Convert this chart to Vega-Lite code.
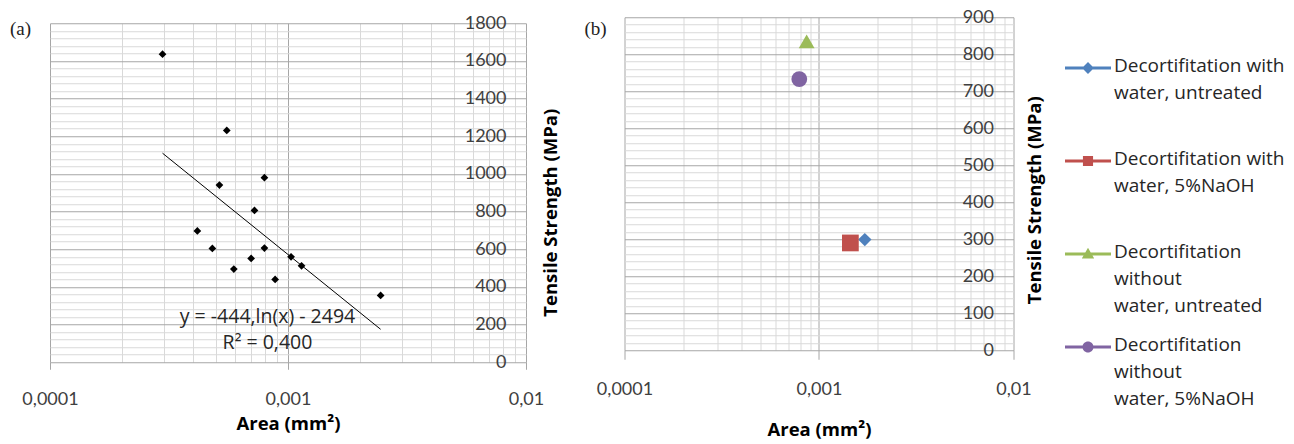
{
  "$schema": "https://vega.github.io/schema/vega-lite/v6.json",
  "padding": {"left": 10, "top": 8, "right": 0, "bottom": 5},
  "spacing": 24.5,
  "center": true,
  "datasets": {
    "fibres": [
      {"area": 0.000297, "ts": 1636}, {"area": 0.000553, "ts": 1231}, {"area": 0.000515, "ts": 941},
      {"area": 0.000796, "ts": 980}, {"area": 0.000723, "ts": 806}, {"area": 0.000416, "ts": 697},
      {"area": 0.000481, "ts": 604}, {"area": 0.000796, "ts": 606}, {"area": 0.0007, "ts": 551},
      {"area": 0.000592, "ts": 495}, {"area": 0.00103, "ts": 560}, {"area": 0.00114, "ts": 512},
      {"area": 0.000883, "ts": 440}, {"area": 0.00245, "ts": 355}
    ],
    "trend": [{"area": 0.000297, "ts": 1110}, {"area": 0.00245, "ts": 175}],
    "equation": [
      {"area": 0.00082, "ts": 240, "label": "y = -444,ln(x) - 2494"},
      {"area": 0.00082, "ts": 104, "label": "R² = 0,400"}
    ],
    "groups": [
      {"area": 0.00172, "ts": 299, "series": "Decortifitation with water, untreated"},
      {"area": 0.00145, "ts": 290, "series": "Decortifitation with water, 5%NaOH"},
      {"area": 0.000864, "ts": 835, "series": "Decortifitation without water, untreated"},
      {"area": 0.000792, "ts": 733, "series": "Decortifitation without water, 5%NaOH"}
    ]
  },
  "hconcat": [
    {
      "width": 476,
      "height": 339,
      "title": {"text": "(a)", "anchor": "start", "frame": "group", "font": "Liberation Serif", "fontSize": 19, "fontWeight": "normal", "color": "#222222", "dx": -40, "dy": 24.5, "offset": 0},
      "layer": [
        {
          "data": {"name": "trend"},
          "mark": {"type": "line", "color": "#000000", "strokeWidth": 1},
          "encoding": {
            "x": {"field": "area", "type": "quantitative", "scale": {"type": "log", "domain": [0.0001, 0.01], "nice": false},
              "axis": {"orient": "top", "values": [0.0002,0.0003,0.0004,0.0005,0.0006,0.0007,0.0008,0.0009,0.002,0.003,0.004,0.005,0.006,0.007,0.008,0.009], "grid": true, "gridColor": "#d9d9d9", "labels": false, "ticks": false, "domain": false, "title": null}},
            "y": {"field": "ts", "type": "quantitative", "scale": {"domain": [0, 1800], "nice": false},
              "axis": {"orient": "left", "values": [40,80,120,160,240,280,320,360,440,480,520,560,640,680,720,760,840,880,920,960,1040,1080,1120,1160,1240,1280,1320,1360,1440,1480,1520,1560,1640,1680,1720,1760], "grid": true, "gridColor": "#d9d9d9", "labels": false, "ticks": false, "domain": false, "title": null}}
          }
        },
        {
          "data": {"name": "fibres"},
          "mark": {"type": "point", "shape": "diamond", "filled": true, "color": "#000000", "size": 60, "opacity": 1},
          "encoding": {
            "x": {"field": "area", "type": "quantitative", "scale": {"type": "log", "domain": [0.0001, 0.01], "nice": false},
              "axis": {"orient": "bottom", "values": [0.0001, 0.001, 0.01], "grid": true, "gridColor": "#a6a6a6", "domain": false, "ticks": true, "tickSize": 7, "tickColor": "#a6a6a6", "labelExpr": "replace(toString(datum.value), '.', ',')", "labelFlush": false, "labelOverlap": false, "labelPadding": 21, "title": "Area (mm²)", "titleY": 61, "titleBaseline": "middle"}},
            "y": {"field": "ts", "type": "quantitative", "scale": {"domain": [0, 1800], "nice": false},
              "axis": {"orient": "right", "values": [0,200,400,600,800,1000,1200,1400,1600,1800], "grid": true, "gridColor": "#a6a6a6", "domain": false, "ticks": false, "tickSize": 0, "labelAlign": "right", "labelPadding": -20, "format": "d", "labelBaseline": "middle", "labelOverlap": false, "title": "Tensile Strength (MPa)", "titleAngle": -90, "titleX": 24.5, "titleY": 189, "titleBaseline": "middle", "titleAlign": "center"}}
          }
        },
        {
          "data": {"name": "equation"},
          "mark": {"type": "text", "font": "Open Sans", "fontSize": 19.5, "color": "#262626", "align": "center", "baseline": "middle"},
          "encoding": {
            "x": {"field": "area", "type": "quantitative", "scale": {"type": "log", "domain": [0.0001, 0.01], "nice": false}, "axis": null},
            "y": {"field": "ts", "type": "quantitative", "scale": {"domain": [0, 1800], "nice": false}, "axis": null},
            "text": {"field": "label"}
          }
        }
      ],
      "resolve": {"axis": {"x": "independent", "y": "independent"}}
    },
    {
      "width": 389,
      "height": 333,
      "title": {"text": "(b)", "anchor": "start", "frame": "group", "font": "Liberation Serif", "fontSize": 19, "fontWeight": "normal", "color": "#222222", "dx": -40, "dy": 30.5, "offset": 0},
      "data": {"name": "groups"},
      "layer": [
        {
          "mark": {"type": "point", "filled": true, "opacity": 0},
          "encoding": {
            "x": {"field": "area", "type": "quantitative", "scale": {"type": "log", "domain": [0.0001, 0.01], "nice": false},
              "axis": {"orient": "top", "values": [0.0002,0.0003,0.0004,0.0005,0.0006,0.0007,0.0008,0.0009,0.002,0.003,0.004,0.005,0.006,0.007,0.008,0.009], "grid": true, "gridColor": "#d9d9d9", "labels": false, "ticks": false, "domain": false, "title": null}},
            "y": {"field": "ts", "type": "quantitative", "scale": {"domain": [0, 900], "nice": false},
              "axis": {"orient": "left", "values": [20,40,60,80,120,140,160,180,220,240,260,280,320,340,360,380,420,440,460,480,520,540,560,580,620,640,660,680,720,740,760,780,820,840,860,880], "grid": true, "gridColor": "#d9d9d9", "labels": false, "ticks": false, "domain": false, "title": null}},
            "color": {"field": "series", "type": "nominal",
              "scale": {"domain": ["Decortifitation with water, untreated", "Decortifitation with water, 5%NaOH", "Decortifitation without water, untreated", "Decortifitation without water, 5%NaOH"], "range": ["#4F81BD", "#C0504D", "#9BBB59", "#8064A2"]},
              "legend": {
                "orient": "none", "legendX": 1015, "legendY": 28, "title": null,
                "symbolSize": 2116, "symbolStrokeWidth": 0, "symbolOpacity": 1,
                "labelFont": "Open Sans", "labelFontSize": 19, "labelColor": "#262626", "labelLimit": 400, "labelOffset": 3, "labelBaseline": "top",
                "labelExpr": "indexof(datum.label, 'without') >= 0 ? ['Decortifitation', 'without', replace(datum.label, 'Decortifitation without ', '')] : ['Decortifitation with', replace(datum.label, 'Decortifitation with ', '')]",
                "gridAlign": "all", "rowPadding": 8,
                "encode": {"labels": {"update": {"lineHeight": {"value": 27}, "dy": {"value": -11}}}}
              }},
            "shape": {"field": "series", "type": "nominal",
              "scale": {"domain": ["Decortifitation with water, untreated", "Decortifitation with water, 5%NaOH", "Decortifitation without water, untreated", "Decortifitation without water, 5%NaOH"],
                "range": [
                  "M-1,-0.065H1V0.065H-1Z M0,-0.26L0.26,0L0,0.26L-0.26,0Z",
                  "M-1,-0.065H1V0.065H-1Z M-0.22,-0.22H0.22V0.22H-0.22Z",
                  "M-1,-0.065H1V0.065H-1Z M0,-0.27L0.27,0.2L-0.27,0.2Z",
                  "M-1,-0.065H1V0.065H-1Z M0.24,0A0.24,0.24,0,1,1,-0.24,0A0.24,0.24,0,1,1,0.24,0Z"
                ]}}
          }
        },
        {
          "transform": [{"filter": "datum.series === 'Decortifitation with water, untreated'"}],
          "mark": {"type": "point", "shape": "diamond", "filled": true, "color": "#4F81BD", "size": 180, "opacity": 1},
          "encoding": {
            "x": {"field": "area", "type": "quantitative", "scale": {"type": "log", "domain": [0.0001, 0.01], "nice": false},
              "axis": {"orient": "bottom", "values": [0.0001, 0.001, 0.01], "grid": true, "gridColor": "#a6a6a6", "domain": false, "ticks": true, "tickSize": 9, "tickColor": "#a6a6a6", "labelExpr": "replace(toString(datum.value), '.', ',')", "labelFlush": false, "labelOverlap": false, "labelPadding": 21, "title": "Area (mm²)", "titleY": 79, "titleBaseline": "middle"}},
            "y": {"field": "ts", "type": "quantitative", "scale": {"domain": [0, 900], "nice": false},
              "axis": {"orient": "right", "values": [0,100,200,300,400,500,600,700,800,900], "grid": true, "gridColor": "#a6a6a6", "domain": false, "ticks": false, "tickSize": 0, "labelAlign": "right", "labelPadding": -20, "format": "d", "labelBaseline": "middle", "labelOverlap": false, "title": "Tensile Strength (MPa)", "titleAngle": -90, "titleX": 20.5, "titleY": 182.5, "titleBaseline": "middle", "titleAlign": "center"}}
          }
        },
        {
          "transform": [{"filter": "datum.series === 'Decortifitation with water, 5%NaOH'"}],
          "mark": {"type": "point", "shape": "square", "filled": true, "color": "#C0504D", "size": 280, "opacity": 1},
          "encoding": {
            "x": {"field": "area", "type": "quantitative", "scale": {"type": "log", "domain": [0.0001, 0.01], "nice": false}, "axis": null},
            "y": {"field": "ts", "type": "quantitative", "scale": {"domain": [0, 900], "nice": false}, "axis": null}
          }
        },
        {
          "transform": [{"filter": "datum.series === 'Decortifitation without water, untreated'"}],
          "mark": {"type": "point", "shape": "triangle-up", "filled": true, "color": "#9BBB59", "size": 250, "opacity": 1},
          "encoding": {
            "x": {"field": "area", "type": "quantitative", "scale": {"type": "log", "domain": [0.0001, 0.01], "nice": false}, "axis": null},
            "y": {"field": "ts", "type": "quantitative", "scale": {"domain": [0, 900], "nice": false}, "axis": null}
          }
        },
        {
          "transform": [{"filter": "datum.series === 'Decortifitation without water, 5%NaOH'"}],
          "mark": {"type": "point", "shape": "circle", "filled": true, "color": "#8064A2", "size": 250, "opacity": 1},
          "encoding": {
            "x": {"field": "area", "type": "quantitative", "scale": {"type": "log", "domain": [0.0001, 0.01], "nice": false}, "axis": null},
            "y": {"field": "ts", "type": "quantitative", "scale": {"domain": [0, 900], "nice": false}, "axis": null}
          }
        }
      ],
      "resolve": {"axis": {"x": "independent", "y": "independent"}}
    }
  ],
  "config": {
    "view": {"stroke": null},
    "font": "Lato",
    "style": {"guide-label": {"lineHeight": 27}},
    "axis": {"labelFont": "Lato", "labelFontSize": 18, "labelColor": "#404040", "titleFont": "Open Sans", "titleFontSize": 18.5, "titleFontWeight": "bold", "titleColor": "#000000", "gridWidth": 1}
  }
}
